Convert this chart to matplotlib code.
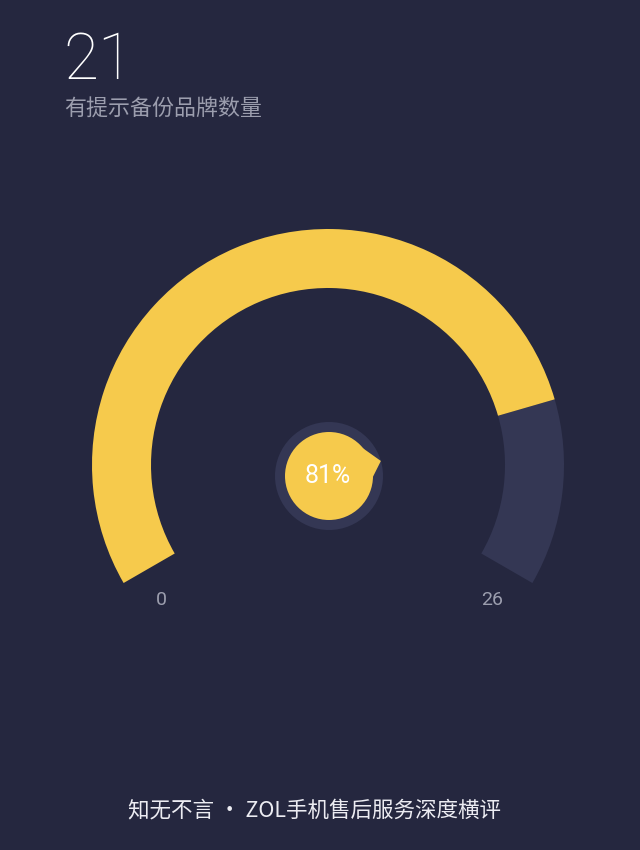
import matplotlib
matplotlib.use("Agg")
import matplotlib.pyplot as plt
from matplotlib.patches import Wedge, Circle, Polygon
import numpy as np

plt.rcParams["font.family"] = ["Noto Sans CJK SC", "DejaVu Sans"]
NUM_FONT = ["Roboto", "Lato", "DejaVu Sans"]

# data
VALUE = 21
MAX_VALUE = 26
MIN_VALUE = 0
TITLE = "有提示备份品牌数量"
FOOTER = "知无不言 · ZOL手机售后服务深度横评"

# colours
BG = "#25273f"
YELLOW = "#f6ca4c"
TRACK = "#343754"
GREY_TEXT = "#9c9eae"

# gauge geometry (pixel space, y up)
W, H = 640, 850
CX, CY = 328, H - 465
R_OUT, R_W = 236, 59
START, SPAN = 210, 240

fig = plt.figure(figsize=(6.4, 8.5), dpi=100, facecolor=BG)
ax = fig.add_axes([0, 0, 1, 1])
ax.set_xlim(0, W)
ax.set_ylim(0, H)
ax.set_aspect("equal")
ax.axis("off")
ax.set_facecolor(BG)

frac = VALUE / MAX_VALUE
split = START - SPAN * frac

ax.add_patch(Wedge((CX, CY), R_OUT, START - SPAN, split, width=R_W,
                   facecolor=TRACK, edgecolor="none"))
ax.add_patch(Wedge((CX, CY), R_OUT, split, START, width=R_W,
                   facecolor=YELLOW, edgecolor="none"))

# centre indicator
px, py = 329, H - 476
ax.add_patch(Circle((px, py), 54, facecolor=TRACK, edgecolor="none"))
ax.add_patch(Circle((px, py), 44, facecolor=YELLOW, edgecolor="none"))
a = np.deg2rad(split)
tip = (px + 54 * np.cos(a), py + 54 * np.sin(a))
b1 = np.deg2rad(split + 28)
b2 = np.deg2rad(split - 20)
ax.add_patch(Polygon([tip,
                      (px + 43 * np.cos(b1), py + 43 * np.sin(b1)),
                      (px + 43 * np.cos(b2), py + 43 * np.sin(b2))],
                     closed=True, facecolor=YELLOW, edgecolor="none"))
ax.text(px - 1, py, f"{round(frac * 100)}%", color="white", fontsize=18,
        ha="center", va="center", family=NUM_FONT)

# min / max labels
ax.text(161, H - 600, str(MIN_VALUE), color=GREY_TEXT, fontsize=14,
        ha="center", va="center", family=NUM_FONT)
ax.text(492, H - 600, str(MAX_VALUE), color=GREY_TEXT, fontsize=14,
        ha="center", va="center", family=NUM_FONT)

# header
ax.text(63, H - 79, str(VALUE), color="white", fontsize=46,
        ha="left", va="baseline", fontweight="light", family=NUM_FONT)
ax.text(64, H - 110, TITLE, color=GREY_TEXT, fontsize=15.8,
        ha="left", va="center")

# footer
ax.text(W / 2 - 6, H - 810, FOOTER, color="#ececf2", fontsize=15.5,
        ha="center", va="center")

fig.savefig("out.png", dpi=100, facecolor=BG)
